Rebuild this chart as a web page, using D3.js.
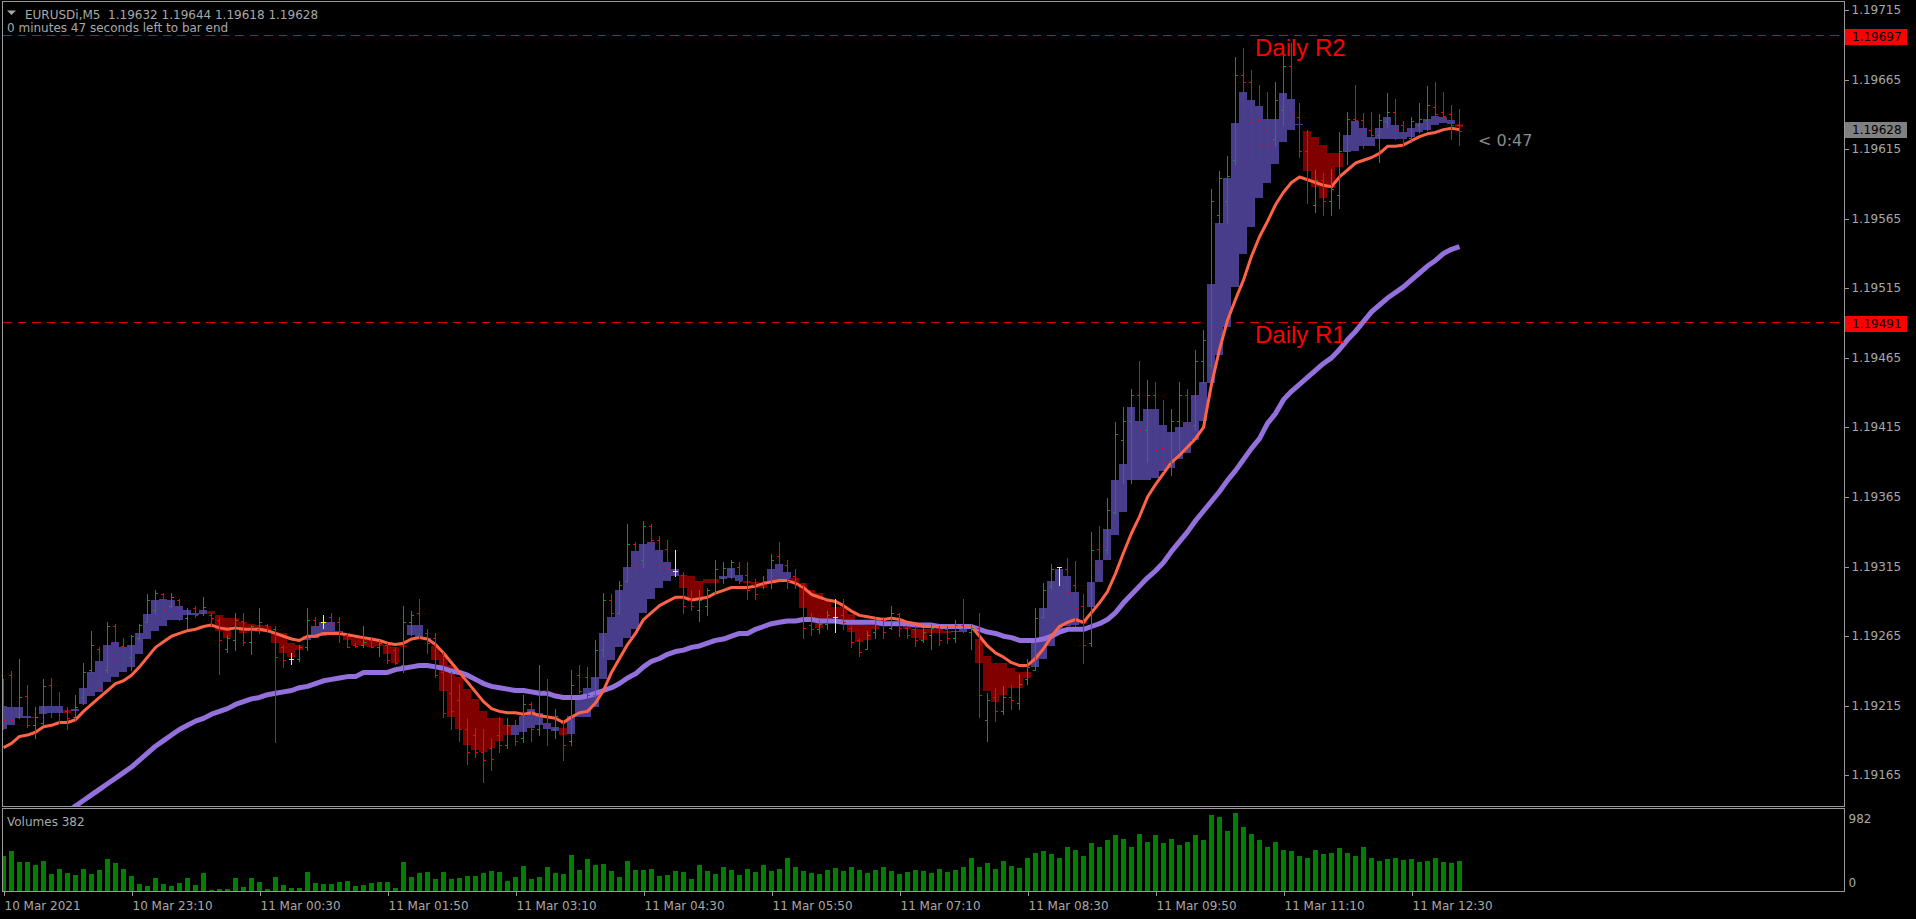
<!DOCTYPE html>
<html>
<head>
<meta charset="utf-8">
<script src="https://cdn.jsdelivr.net/npm/d3@7/dist/d3.min.js"></script>
<style>
html,body{margin:0;padding:0;background:#000;}
body{width:1916px;height:919px;overflow:hidden;}
svg{display:block;}
text{font-family:"DejaVu Sans",Verdana,sans-serif;}
</style>
</head>
<body>
<svg id="chart" width="1916" height="919"></svg>
<script>
// ---------------- DATA ----------------
const symbol = "EURUSDi,M5";
const lastOHLC = [1.19632, 1.19644, 1.19618, 1.19628];
const timerText = "0 minutes 47 seconds left to bar end";
const countdownText = "< 0:47";
const volumeTitle = "Volumes 382";
const timeTickBars = [0,16,32,48,64,80,96,112,128,144,160,176];
const timeLabels = ["10 Mar 2021","10 Mar 23:10","11 Mar 00:30","11 Mar 01:50","11 Mar 03:10","11 Mar 04:30","11 Mar 05:50","11 Mar 07:10","11 Mar 08:30","11 Mar 09:50","11 Mar 11:10","11 Mar 12:30"];
const priceTicks = [1.19715,1.19665,1.19615,1.19565,1.19515,1.19465,1.19415,1.19365,1.19315,1.19265,1.19215,1.19165];
const volumeTicks = [0, 982];
const levelNames = ["Daily R2","Daily R1"];
const levelPrices = [1.19697, 1.19491];

const open = [
1.19230,1.19237,1.19207,1.19222,1.19201,1.19203,1.19230,1.19213,1.19211,1.19207,
1.19221,1.19241,1.19256,1.19241,1.19272,1.19258,1.19250,1.19264,1.19275,1.19284,
1.19295,1.19287,1.19291,1.19278,1.19285,1.19282,1.19280,1.19277,1.19256,1.19262,
1.19276,1.19261,1.19270,1.19273,1.19270,1.19257,1.19249,1.19249,1.19257,1.19277,
1.19275,1.19279,1.19275,1.19266,1.19259,1.19259,1.19262,1.19257,1.19259,1.19255,
1.19244,1.19275,1.19282,1.19267,1.19264,1.19239,1.19224,1.19219,1.19198,1.19194,
1.19182,1.19185,1.19194,1.19187,1.19201,1.19192,1.19216,1.19198,1.19226,1.19198,
1.19203,1.19190,1.19237,1.19236,1.19223,1.19255,1.19291,1.19282,1.19305,1.19331,
1.19320,1.19344,1.19334,1.19328,1.19312,1.19309,1.19291,1.19284,1.19287,1.19297,
1.19307,1.19313,1.19315,1.19309,1.19302,1.19302,1.19303,1.19323,1.19316,1.19308,
1.19302,1.19273,1.19270,1.19274,1.19279,1.19280,1.19271,1.19262,1.19256,1.19268,
1.19277,1.19271,1.19281,1.19271,1.19270,1.19262,1.19266,1.19271,1.19270,1.19264,
1.19273,1.19268,1.19271,1.19205,1.19221,1.19211,1.19221,1.19217,1.19234,1.19241,
1.19279,1.19301,1.19315,1.19313,1.19302,1.19287,1.19260,1.19328,1.19327,1.19354,
1.19406,1.19420,1.19438,1.19413,1.19438,1.19400,1.19390,1.19420,1.19438,1.19417,
1.19463,1.19460,1.19568,1.19578,1.19607,1.19668,1.19663,1.19636,1.19629,1.19622,
1.19643,1.19675,1.19638,1.19614,1.19575,1.19593,1.19578,1.19582,1.19614,1.19637,
1.19636,1.19629,1.19625,1.19635,1.19642,1.19632,1.19623,1.19632,1.19636,1.19645,
1.19642,1.19640,1.19632];
const high = [
1.19234,1.19240,1.19249,1.19230,1.19214,1.19234,1.19235,1.19225,1.19214,1.19223,
1.19246,1.19269,1.19257,1.19275,1.19274,1.19264,1.19266,1.19274,1.19295,1.19298,
1.19296,1.19296,1.19292,1.19285,1.19287,1.19293,1.19282,1.19279,1.19266,1.19282,
1.19282,1.19273,1.19285,1.19274,1.19272,1.19259,1.19253,1.19259,1.19285,1.19279,
1.19280,1.19282,1.19279,1.19267,1.19260,1.19272,1.19264,1.19262,1.19260,1.19257,
1.19287,1.19283,1.19292,1.19270,1.19267,1.19254,1.19239,1.19231,1.19206,1.19199,
1.19198,1.19192,1.19207,1.19206,1.19205,1.19223,1.19218,1.19244,1.19234,1.19213,
1.19205,1.19241,1.19244,1.19243,1.19262,1.19296,1.19295,1.19305,1.19346,1.19333,
1.19348,1.19346,1.19337,1.19334,1.19327,1.19311,1.19298,1.19298,1.19300,1.19320,
1.19318,1.19320,1.19318,1.19318,1.19306,1.19308,1.19324,1.19333,1.19320,1.19313,
1.19303,1.19282,1.19277,1.19283,1.19292,1.19292,1.19272,1.19264,1.19269,1.19279,
1.19279,1.19287,1.19282,1.19272,1.19272,1.19271,1.19274,1.19272,1.19272,1.19277,
1.19292,1.19274,1.19282,1.19224,1.19228,1.19229,1.19230,1.19238,1.19249,1.19285,
1.19303,1.19317,1.19315,1.19321,1.19319,1.19295,1.19340,1.19344,1.19364,1.19419,
1.19430,1.19443,1.19463,1.19449,1.19448,1.19435,1.19428,1.19448,1.19443,1.19471,
1.19485,1.19586,1.19599,1.19610,1.19681,1.19688,1.19672,1.19661,1.19656,1.19663,
1.19682,1.19691,1.19648,1.19629,1.19600,1.19598,1.19601,1.19627,1.19642,1.19661,
1.19641,1.19642,1.19640,1.19655,1.19651,1.19635,1.19638,1.19648,1.19660,1.19663,
1.19656,1.19647,1.19644];
const low = [
1.19198,1.19204,1.19206,1.19200,1.19192,1.19202,1.19207,1.19203,1.19198,1.19205,
1.19216,1.19239,1.19226,1.19239,1.19259,1.19241,1.19241,1.19262,1.19275,1.19282,
1.19282,1.19286,1.19277,1.19271,1.19279,1.19280,1.19273,1.19238,1.19254,1.19255,
1.19259,1.19252,1.19267,1.19268,1.19189,1.19243,1.19245,1.19247,1.19255,1.19267,
1.19271,1.19272,1.19261,1.19257,1.19257,1.19257,1.19257,1.19251,1.19246,1.19245,
1.19239,1.19266,1.19264,1.19253,1.19236,1.19207,1.19198,1.19190,1.19173,1.19178,
1.19160,1.19169,1.19182,1.19185,1.19187,1.19189,1.19190,1.19194,1.19187,1.19192,
1.19176,1.19187,1.19224,1.19219,1.19221,1.19250,1.19279,1.19282,1.19304,1.19307,
1.19315,1.19327,1.19310,1.19310,1.19308,1.19282,1.19284,1.19276,1.19280,1.19295,
1.19303,1.19307,1.19303,1.19292,1.19292,1.19300,1.19300,1.19310,1.19300,1.19300,
1.19264,1.19266,1.19267,1.19270,1.19268,1.19270,1.19257,1.19251,1.19256,1.19264,
1.19264,1.19270,1.19265,1.19264,1.19258,1.19261,1.19256,1.19259,1.19260,1.19261,
1.19268,1.19256,1.19207,1.19190,1.19204,1.19209,1.19213,1.19213,1.19231,1.19241,
1.19278,1.19300,1.19302,1.19291,1.19272,1.19246,1.19258,1.19305,1.19325,1.19353,
1.19375,1.19375,1.19407,1.19390,1.19389,1.19384,1.19381,1.19399,1.19406,1.19413,
1.19447,1.19458,1.19562,1.19562,1.19604,1.19634,1.19609,1.19609,1.19611,1.19617,
1.19632,1.19634,1.19609,1.19576,1.19570,1.19568,1.19568,1.19573,1.19604,1.19622,
1.19616,1.19622,1.19606,1.19631,1.19622,1.19618,1.19620,1.19627,1.19629,1.19635,
1.19635,1.19622,1.19618];
const close = [
1.19205,1.19205,1.19221,1.19201,1.19207,1.19229,1.19211,1.19211,1.19206,1.19214,
1.19239,1.19259,1.19228,1.19272,1.19259,1.19249,1.19265,1.19273,1.19291,1.19296,
1.19284,1.19293,1.19282,1.19282,1.19280,1.19286,1.19278,1.19262,1.19264,1.19277,
1.19261,1.19272,1.19275,1.19270,1.19250,1.19248,1.19249,1.19257,1.19277,1.19272,
1.19275,1.19274,1.19268,1.19257,1.19258,1.19261,1.19257,1.19260,1.19248,1.19246,
1.19275,1.19280,1.19267,1.19260,1.19237,1.19210,1.19211,1.19198,1.19182,1.19182,
1.19176,1.19177,1.19187,1.19201,1.19190,1.19216,1.19198,1.19226,1.19201,1.19208,
1.19187,1.19230,1.19226,1.19223,1.19255,1.19291,1.19282,1.19302,1.19331,1.19316,
1.19344,1.19334,1.19316,1.19314,1.19312,1.19287,1.19287,1.19291,1.19298,1.19313,
1.19314,1.19318,1.19305,1.19298,1.19295,1.19305,1.19320,1.19315,1.19305,1.19302,
1.19271,1.19270,1.19274,1.19280,1.19279,1.19275,1.19261,1.19254,1.19266,1.19277,
1.19268,1.19282,1.19271,1.19266,1.19262,1.19268,1.19271,1.19262,1.19264,1.19273,
1.19270,1.19271,1.19223,1.19219,1.19211,1.19221,1.19219,1.19231,1.19243,1.19278,
1.19298,1.19313,1.19315,1.19297,1.19285,1.19259,1.19327,1.19316,1.19356,1.19410,
1.19420,1.19438,1.19413,1.19438,1.19399,1.19390,1.19420,1.19438,1.19417,1.19463,
1.19478,1.19578,1.19594,1.19596,1.19668,1.19663,1.19635,1.19618,1.19618,1.19650,
1.19675,1.19640,1.19614,1.19594,1.19593,1.19578,1.19586,1.19614,1.19637,1.19636,
1.19625,1.19625,1.19636,1.19642,1.19629,1.19625,1.19635,1.19637,1.19647,1.19640,
1.19639,1.19632,1.19628];
const haOpen = [
1.19198,1.19201,1.19206,1.19206,1.19207,1.19209,1.19210,1.19210,1.19212,1.19211,
1.19216,1.19222,1.19225,1.19232,1.19236,1.19239,1.19243,1.19252,1.19263,1.19269,
1.19272,1.19277,1.19277,1.19280,1.19280,1.19281,1.19283,1.19280,1.19278,1.19278,
1.19275,1.19274,1.19273,1.19272,1.19268,1.19267,1.19260,1.19259,1.19262,1.19264,
1.19265,1.19267,1.19266,1.19266,1.19264,1.19264,1.19262,1.19262,1.19259,1.19257,
1.19259,1.19266,1.19264,1.19262,1.19258,1.19252,1.19244,1.19236,1.19227,1.19220,
1.19211,1.19206,1.19206,1.19201,1.19194,1.19196,1.19199,1.19201,1.19198,1.19197,
1.19199,1.19195,1.19207,1.19207,1.19214,1.19234,1.19248,1.19257,1.19264,1.19270,
1.19282,1.19292,1.19300,1.19305,1.19308,1.19309,1.19308,1.19305,1.19306,1.19306,
1.19306,1.19307,1.19305,1.19305,1.19304,1.19303,1.19305,1.19305,1.19306,1.19307,
1.19303,1.19298,1.19296,1.19290,1.19286,1.19286,1.19281,1.19275,1.19273,1.19273,
1.19272,1.19272,1.19275,1.19272,1.19270,1.19270,1.19270,1.19270,1.19269,1.19268,
1.19268,1.19270,1.19263,1.19251,1.19246,1.19246,1.19242,1.19239,1.19239,1.19243,
1.19249,1.19258,1.19267,1.19272,1.19273,1.19276,1.19286,1.19304,1.19320,1.19338,
1.19354,1.19377,1.19377,1.19377,1.19379,1.19384,1.19386,1.19392,1.19397,1.19406,
1.19420,1.19447,1.19467,1.19487,1.19516,1.19540,1.19559,1.19580,1.19591,1.19604,
1.19620,1.19629,1.19632,1.19628,1.19624,1.19618,1.19612,1.19612,1.19613,1.19614,
1.19617,1.19617,1.19622,1.19622,1.19622,1.19622,1.19624,1.19627,1.19629,1.19632,
1.19634,1.19633,1.19633];
const haClose = [
1.19215,1.19214,1.19214,1.19208,1.19206,1.19215,1.19215,1.19215,1.19210,1.19213,
1.19228,1.19239,1.19247,1.19259,1.19261,1.19257,1.19259,1.19267,1.19281,1.19291,
1.19292,1.19291,1.19287,1.19284,1.19282,1.19284,1.19281,1.19269,1.19264,1.19272,
1.19267,1.19270,1.19268,1.19268,1.19260,1.19253,1.19250,1.19255,1.19265,1.19272,
1.19275,1.19275,1.19269,1.19262,1.19259,1.19258,1.19257,1.19258,1.19252,1.19246,
1.19257,1.19273,1.19273,1.19264,1.19248,1.19226,1.19207,1.19198,1.19187,1.19183,
1.19182,1.19185,1.19190,1.19194,1.19201,1.19208,1.19213,1.19210,1.19203,1.19200,
1.19194,1.19208,1.19221,1.19228,1.19236,1.19267,1.19279,1.19298,1.19315,1.19326,
1.19331,1.19333,1.19327,1.19318,1.19313,1.19300,1.19290,1.19291,1.19303,1.19303,
1.19308,1.19314,1.19309,1.19303,1.19300,1.19300,1.19313,1.19317,1.19311,1.19303,
1.19285,1.19277,1.19271,1.19275,1.19278,1.19275,1.19268,1.19261,1.19262,1.19270,
1.19275,1.19275,1.19272,1.19270,1.19264,1.19262,1.19267,1.19267,1.19267,1.19269,
1.19273,1.19273,1.19246,1.19226,1.19218,1.19223,1.19228,1.19228,1.19235,1.19263,
1.19285,1.19305,1.19313,1.19308,1.19297,1.19274,1.19304,1.19320,1.19342,1.19377,
1.19389,1.19430,1.19420,1.19428,1.19428,1.19417,1.19412,1.19415,1.19419,1.19438,
1.19448,1.19518,1.19562,1.19594,1.19634,1.19656,1.19650,1.19646,1.19637,1.19637,
1.19655,1.19651,1.19633,1.19599,1.19588,1.19580,1.19587,1.19602,1.19625,1.19635,
1.19630,1.19624,1.19630,1.19638,1.19632,1.19627,1.19630,1.19634,1.19637,1.19639,
1.19638,1.19636,1.19631];
const maFast = [
1.19185,1.19188,1.19193,1.19194,1.19196,1.19200,1.19201,1.19203,1.19203,1.19205,
1.19211,1.19216,1.19221,1.19226,1.19231,1.19233,1.19237,1.19243,1.19250,1.19257,
1.19261,1.19265,1.19267,1.19269,1.19270,1.19272,1.19273,1.19271,1.19270,1.19271,
1.19270,1.19270,1.19270,1.19269,1.19267,1.19265,1.19263,1.19262,1.19265,1.19265,
1.19267,1.19267,1.19267,1.19266,1.19265,1.19264,1.19263,1.19262,1.19260,1.19259,
1.19260,1.19263,1.19264,1.19263,1.19259,1.19253,1.19246,1.19239,1.19232,1.19225,
1.19218,1.19213,1.19211,1.19210,1.19210,1.19209,1.19210,1.19208,1.19207,1.19206,
1.19203,1.19207,1.19210,1.19211,1.19217,1.19226,1.19239,1.19249,1.19259,1.19267,
1.19277,1.19282,1.19287,1.19290,1.19293,1.19293,1.19291,1.19292,1.19293,1.19296,
1.19298,1.19300,1.19300,1.19300,1.19301,1.19303,1.19304,1.19305,1.19305,1.19303,
1.19300,1.19295,1.19293,1.19291,1.19290,1.19287,1.19283,1.19280,1.19279,1.19278,
1.19277,1.19278,1.19277,1.19275,1.19274,1.19272,1.19272,1.19272,1.19272,1.19272,
1.19272,1.19272,1.19265,1.19258,1.19253,1.19250,1.19246,1.19244,1.19244,1.19249,
1.19256,1.19265,1.19272,1.19275,1.19277,1.19275,1.19282,1.19289,1.19297,1.19310,
1.19325,1.19339,1.19351,1.19365,1.19374,1.19382,1.19390,1.19395,1.19401,1.19407,
1.19415,1.19446,1.19471,1.19492,1.19507,1.19521,1.19538,1.19552,1.19563,1.19575,
1.19584,1.19591,1.19595,1.19593,1.19591,1.19589,1.19588,1.19595,1.19600,1.19605,
1.19607,1.19609,1.19612,1.19617,1.19617,1.19618,1.19621,1.19624,1.19626,1.19627,
1.19629,1.19630,1.19629];
const maSlow = [
null,null,null,null,null,null,null,null,1.19139,1.19143,
1.19147,1.19151,1.19155,1.19159,1.19163,1.19167,1.19171,1.19176,1.19181,1.19186,
1.19190,1.19194,1.19198,1.19201,1.19204,1.19206,1.19209,1.19211,1.19213,1.19216,
1.19218,1.19220,1.19221,1.19223,1.19224,1.19225,1.19226,1.19228,1.19229,1.19231,
1.19233,1.19234,1.19235,1.19236,1.19236,1.19239,1.19239,1.19239,1.19239,1.19241,
1.19242,1.19243,1.19244,1.19244,1.19243,1.19242,1.19240,1.19239,1.19237,1.19234,
1.19231,1.19229,1.19228,1.19227,1.19226,1.19226,1.19225,1.19224,1.19224,1.19222,
1.19221,1.19221,1.19221,1.19222,1.19224,1.19226,1.19228,1.19231,1.19235,1.19238,
1.19243,1.19247,1.19249,1.19252,1.19254,1.19255,1.19257,1.19258,1.19260,1.19262,
1.19263,1.19265,1.19267,1.19267,1.19270,1.19272,1.19274,1.19275,1.19276,1.19276,
1.19277,1.19277,1.19276,1.19276,1.19276,1.19275,1.19275,1.19275,1.19275,1.19275,
1.19274,1.19274,1.19274,1.19274,1.19273,1.19273,1.19273,1.19272,1.19272,1.19272,
1.19272,1.19272,1.19270,1.19268,1.19267,1.19265,1.19264,1.19262,1.19262,1.19262,
1.19263,1.19265,1.19268,1.19270,1.19270,1.19270,1.19272,1.19274,1.19277,1.19282,
1.19289,1.19295,1.19301,1.19307,1.19312,1.19318,1.19326,1.19333,1.19340,1.19348,
1.19355,1.19362,1.19369,1.19377,1.19384,1.19392,1.19400,1.19407,1.19418,1.19425,
1.19435,1.19441,1.19446,1.19451,1.19456,1.19461,1.19465,1.19471,1.19478,1.19484,
1.19491,1.19498,1.19503,1.19508,1.19512,1.19516,1.19521,1.19526,1.19531,1.19535,
1.19540,1.19543,1.19545];
const volume = [
441,504,365,365,327,378,214,277,227,202,
277,214,264,403,353,277,189,88,63,164,
88,63,101,164,76,227,10,25,25,164,
50,164,113,25,176,76,38,38,239,101,
88,88,113,126,63,76,101,113,113,38,
365,176,227,239,151,239,151,164,189,189,
227,252,239,126,176,315,151,176,302,227,
214,453,264,403,327,340,252,176,378,264,
264,277,189,202,252,239,151,327,250,220,
300,260,200,280,240,330,250,280,420,300,
250,230,210,270,290,250,300,260,230,270,
300,250,210,240,270,250,230,280,240,260,
300,420,300,350,280,380,320,290,420,480,
500,460,420,560,520,440,600,560,640,700,
650,560,720,620,700,600,650,580,620,700,
640,960,930,760,982,800,720,640,560,620,
520,500,440,420,520,460,480,540,480,440,
560,420,380,400,420,390,400,360,380,410,
370,350,382];

// ---------------- LAYOUT / STYLE ----------------
const C = {
  bg:"#000000", frame:"#9a9a9a", text:"#a8a8a8",
  haUp:"#483D8B", haDn:"#800000",
  barUp:"#228B22", barDn:"#FF0000", doji:"#FFFF00",
  maFast:"#FF6347", maSlow:"#9370DB",
  level:"#dc0000", levelText:"#FF0000", vol:"#008000"
};
const P = {left:2.5, right:1844.5, top:1.5, bottom:806.5, vTop:808.5, vBottom:891.5};

const svg = d3.select("#chart");
svg.append("rect").attr("width",1916).attr("height",919).attr("fill",C.bg);

const n = open.length;
const idx = d3.range(n);
const x = d3.scaleLinear().domain([0, n-1]).range([3, 3 + 8*(n-1)]);
const y = d3.scaleLinear().domain([levelPrices[1], levelPrices[0]]).range([321.7, 35]);
const yv = d3.scaleLinear().domain([0, 982]).range([891, 813]);
const ry = v => Math.round(y(v));

const defs = svg.append("defs");
defs.append("clipPath").attr("id","mainClip").append("rect")
  .attr("x",3).attr("y",2).attr("width",P.right-3.5).attr("height",P.bottom-2.5);
defs.append("clipPath").attr("id","volClip").append("rect")
  .attr("x",3).attr("y",P.vTop+0.5).attr("width",P.right-3.5).attr("height",P.vBottom-P.vTop-1);

const main = svg.append("g").attr("clip-path","url(#mainClip)");

// pivot level lines
main.append("g").selectAll("line").data(levelPrices).join("line")
  .attr("x1",3).attr("x2",P.right)
  .attr("y1",d=>ry(d)+0.5).attr("y2",d=>ry(d)+0.5)
  .attr("stroke",C.level).attr("stroke-width",1).attr("stroke-dasharray","8.5,6")
  .attr("shape-rendering","crispEdges");

// Heiken Ashi bodies
main.append("g").attr("shape-rendering","crispEdges")
  .selectAll("rect").data(idx).join("rect")
  .attr("x",i=>x(i)-4).attr("width",8)
  .attr("y",i=>ry(Math.max(haOpen[i],haClose[i])))
  .attr("height",i=>Math.max(1, ry(Math.min(haOpen[i],haClose[i])) - ry(Math.max(haOpen[i],haClose[i]))))
  .attr("fill",i=>haClose[i]>=haOpen[i]?C.haUp:C.haDn);

// moving averages
const line = d3.line().defined(d=>d!=null).x((d,i)=>x(i)+0.5).y(d=>y(d));
main.append("path").datum(maSlow).attr("d",line).attr("fill","none")
  .attr("stroke",C.maSlow).attr("stroke-width",5).attr("stroke-linejoin","round");
main.append("path").datum(maFast).attr("d",line).attr("fill","none")
  .attr("stroke",C.maFast).attr("stroke-width",3).attr("stroke-linejoin","round");

// OHLC bars
const barCol = i => close[i]>open[i]?C.barUp:(close[i]<open[i]?C.barDn:C.doji);
const gb = main.append("g").attr("shape-rendering","crispEdges");
gb.selectAll("rect.hl").data(idx).join("rect").attr("class","hl")
  .attr("x",i=>x(i)).attr("width",1)
  .attr("y",i=>ry(high[i])).attr("height",i=>ry(low[i])-ry(high[i])+1)
  .attr("fill",barCol);
gb.selectAll("rect.op").data(idx).join("rect").attr("class","op")
  .attr("x",i=>x(i)-2).attr("width",2).attr("y",i=>ry(open[i])).attr("height",1)
  .attr("fill",barCol);
gb.selectAll("rect.cl").data(idx).join("rect").attr("class","cl")
  .attr("x",i=>x(i)+1).attr("width",2).attr("y",i=>ry(close[i])).attr("height",1)
  .attr("fill",barCol);

// level texts
main.append("g").selectAll("text").data(levelNames).join("text")
  .attr("x",1255).attr("y",(d,i)=>ry(levelPrices[i])+21)
  .attr("fill",C.levelText).style("font-family","'Liberation Sans',Arial,sans-serif")
  .style("font-size","24px").text(d=>d);

// countdown
svg.append("text").attr("x",1478).attr("y",146).attr("fill","#8a8a8a")
  .style("font-size","16px").text(countdownText);

// volume histogram
const vg = svg.append("g").attr("clip-path","url(#volClip)").attr("shape-rendering","crispEdges");
vg.selectAll("rect").data(idx).join("rect")
  .attr("x",i=>x(i)-2).attr("width",5)
  .attr("y",i=>Math.round(yv(volume[i])))
  .attr("height",i=>Math.round(yv(0))-Math.round(yv(volume[i]))+1)
  .attr("fill",C.vol);

// frames
svg.append("rect").attr("x",P.left).attr("y",P.top).attr("width",P.right-P.left).attr("height",P.bottom-P.top)
  .attr("fill","none").attr("stroke",C.frame).attr("shape-rendering","crispEdges");
svg.append("rect").attr("x",P.left).attr("y",P.vTop).attr("width",P.right-P.left).attr("height",P.vBottom-P.vTop)
  .attr("fill","none").attr("stroke",C.frame).attr("shape-rendering","crispEdges");

// price axis
const pa = svg.append("g").attr("transform",`translate(${P.right},0)`)
  .call(d3.axisRight(y).tickValues(priceTicks).tickSize(4).tickFormat(d3.format(".5f")));
pa.select(".domain").remove();
pa.selectAll(".tick").attr("transform",d=>`translate(0,${ry(d)+0.5})`);
pa.selectAll(".tick line").attr("stroke",C.frame).attr("shape-rendering","crispEdges");
pa.selectAll(".tick text").attr("x",7).attr("dy",null).attr("y",3.5)
  .attr("fill",C.text).style("font-size","12px").style("font-family","'DejaVu Sans',sans-serif");

// price boxes for levels and current price
const boxes = [
  {p:levelPrices[0], fill:"#FF0000", t0:-6, t1:10},
  {p:levelPrices[1], fill:"#FF0000", t0:-6, t1:10},
  {p:lastOHLC[3], fill:"#808080", t0:-9, t1:7}
];
const bg = svg.append("g");
boxes.forEach(b=>{
  const yy = ry(b.p);
  bg.append("rect").attr("x",1845).attr("y",yy+b.t0).attr("width",62).attr("height",b.t1-b.t0).attr("fill",b.fill);
  bg.append("text").attr("x",1852).attr("y",yy+(b.t0+b.t1)/2+4.4).attr("fill","#000")
    .style("font-size","12px").text(d3.format(".5f")(b.p));
});

// volume axis
const va = svg.append("g").attr("transform",`translate(${P.right},0)`)
  .call(d3.axisRight(yv).tickValues(volumeTicks).tickSize(0).tickFormat(d3.format("d")));
va.select(".domain").remove();
va.selectAll(".tick").attr("transform",(d,i)=>`translate(0,${i===0?883:819})`);
va.selectAll(".tick text").attr("x",4).attr("dy",null).attr("y",4.4)
  .attr("fill",C.text).style("font-size","12px").style("font-family","'DejaVu Sans',sans-serif");

// time axis
const ta = svg.append("g").attr("transform",`translate(0.5,${P.vBottom})`)
  .call(d3.axisBottom(x).tickValues(timeTickBars).tickSize(4).tickFormat((d,i)=>timeLabels[i]));
ta.select(".domain").remove();
ta.selectAll(".tick line").attr("stroke",C.frame).attr("shape-rendering","crispEdges");
ta.selectAll(".tick text").attr("x",0.5).attr("y",18.5).attr("dy",null).attr("text-anchor","start")
  .attr("fill",C.text).style("font-size","12px").style("font-family","'DejaVu Sans',sans-serif");

// header
svg.append("path").attr("d","M7,10.5 L16,10.5 L11.5,15 Z").attr("fill",C.text);
svg.append("text").attr("x",25).attr("y",18.5).attr("fill",C.text).style("font-size","12px")
  .attr("xml:space","preserve").style("white-space","pre")
  .text(symbol + "  " + lastOHLC.map(d3.format(".5f")).join(" "));
svg.append("text").attr("x",7).attr("y",31.5).attr("fill",C.text).style("font-size","12px").text(timerText);
svg.append("text").attr("x",7).attr("y",826).attr("fill",C.text).style("font-size","12px").text(volumeTitle);
</script>
</body>
</html>
